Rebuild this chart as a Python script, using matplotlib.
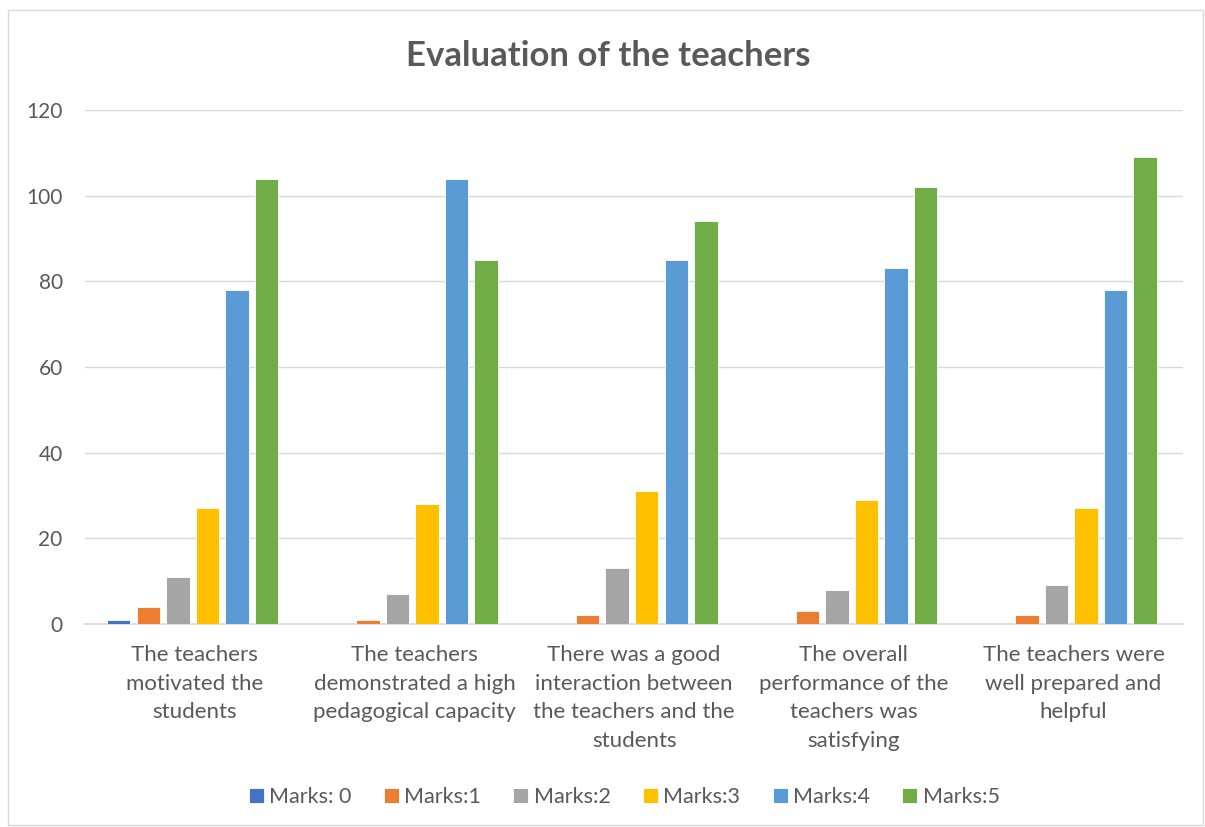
import numpy as np
import matplotlib
import matplotlib.pyplot as plt
from matplotlib.patches import Rectangle

matplotlib.rcParams['font.family'] = 'Lato'

# Data
categories = ['The teachers\nmotivated the\nstudents',
              'The teachers\ndemonstrated a high\npedagogical capacity',
              'There was a good\ninteraction between\nthe teachers and the\nstudents',
              'The overall\nperformance of the\nteachers was\nsatisfying',
              'The teachers were\nwell prepared and\nhelpful']
series_names = ['Marks: 0', 'Marks:1', 'Marks:2', 'Marks:3', 'Marks:4', 'Marks:5']
marks_0 = [1, 0, 0, 0, 0]
marks_1 = [4, 1, 2, 3, 2]
marks_2 = [11, 7, 13, 8, 9]
marks_3 = [27, 28, 31, 29, 27]
marks_4 = [78, 104, 85, 83, 78]
marks_5 = [104, 85, 94, 102, 109]
colors = ['#4472C4', '#ED7D31', '#A5A5A5', '#FFC000', '#5B9BD5', '#70AD47']

fig = plt.figure(figsize=(12.05, 8.27), dpi=100)
ax = fig.add_axes([0.0705, 0.2455, 0.9115, 0.6215])

x = np.arange(len(categories))
pitch = 0.1345
width = 0.107
all_series = [marks_0, marks_1, marks_2, marks_3, marks_4, marks_5]
for i, vals in enumerate(all_series):
    ax.bar(x + (i - 2.5) * pitch - 0.01, vals, width, color=colors[i], label=series_names[i],
           edgecolor='white', linewidth=0.6, zorder=3)

ax.set_xlim(-0.5, 4.5)
ax.set_ylim(0, 120)
ax.set_yticks(np.arange(0, 121, 20))
ax.set_xticks(x)
ax.set_xticklabels(categories, fontsize=16, color='#595959', linespacing=1.55)
ax.tick_params(axis='y', labelsize=15, labelcolor='#595959', length=0, pad=16)
ax.tick_params(axis='x', length=0, pad=15)
ax.grid(axis='y', color='#D9D9D9', linewidth=1, zorder=0)
for s in ['top', 'right', 'left']:
    ax.spines[s].set_visible(False)
ax.spines['bottom'].set_color('#D9D9D9')
ax.spines['bottom'].set_linewidth(1.2)

fig.text(0.505, 0.932, 'Evaluation of the teachers', ha='center', va='center',
         fontsize=25, fontweight='bold', color='#595959')

leg = fig.legend(loc='center', bbox_to_anchor=(0.518, 0.036), ncol=6, frameon=False,
                 fontsize=15.5, handlelength=0.7, handleheight=0.7, handletextpad=0.25,
                 columnspacing=1.5)
for t in leg.get_texts():
    t.set_color('#595959')

# light border around the chart
fig.patches.append(Rectangle((0.007, 0.003), 0.991, 0.985, transform=fig.transFigure,
                             fill=False, edgecolor='#D9D9D9', linewidth=1))

plt.savefig('out.png', dpi=100)
